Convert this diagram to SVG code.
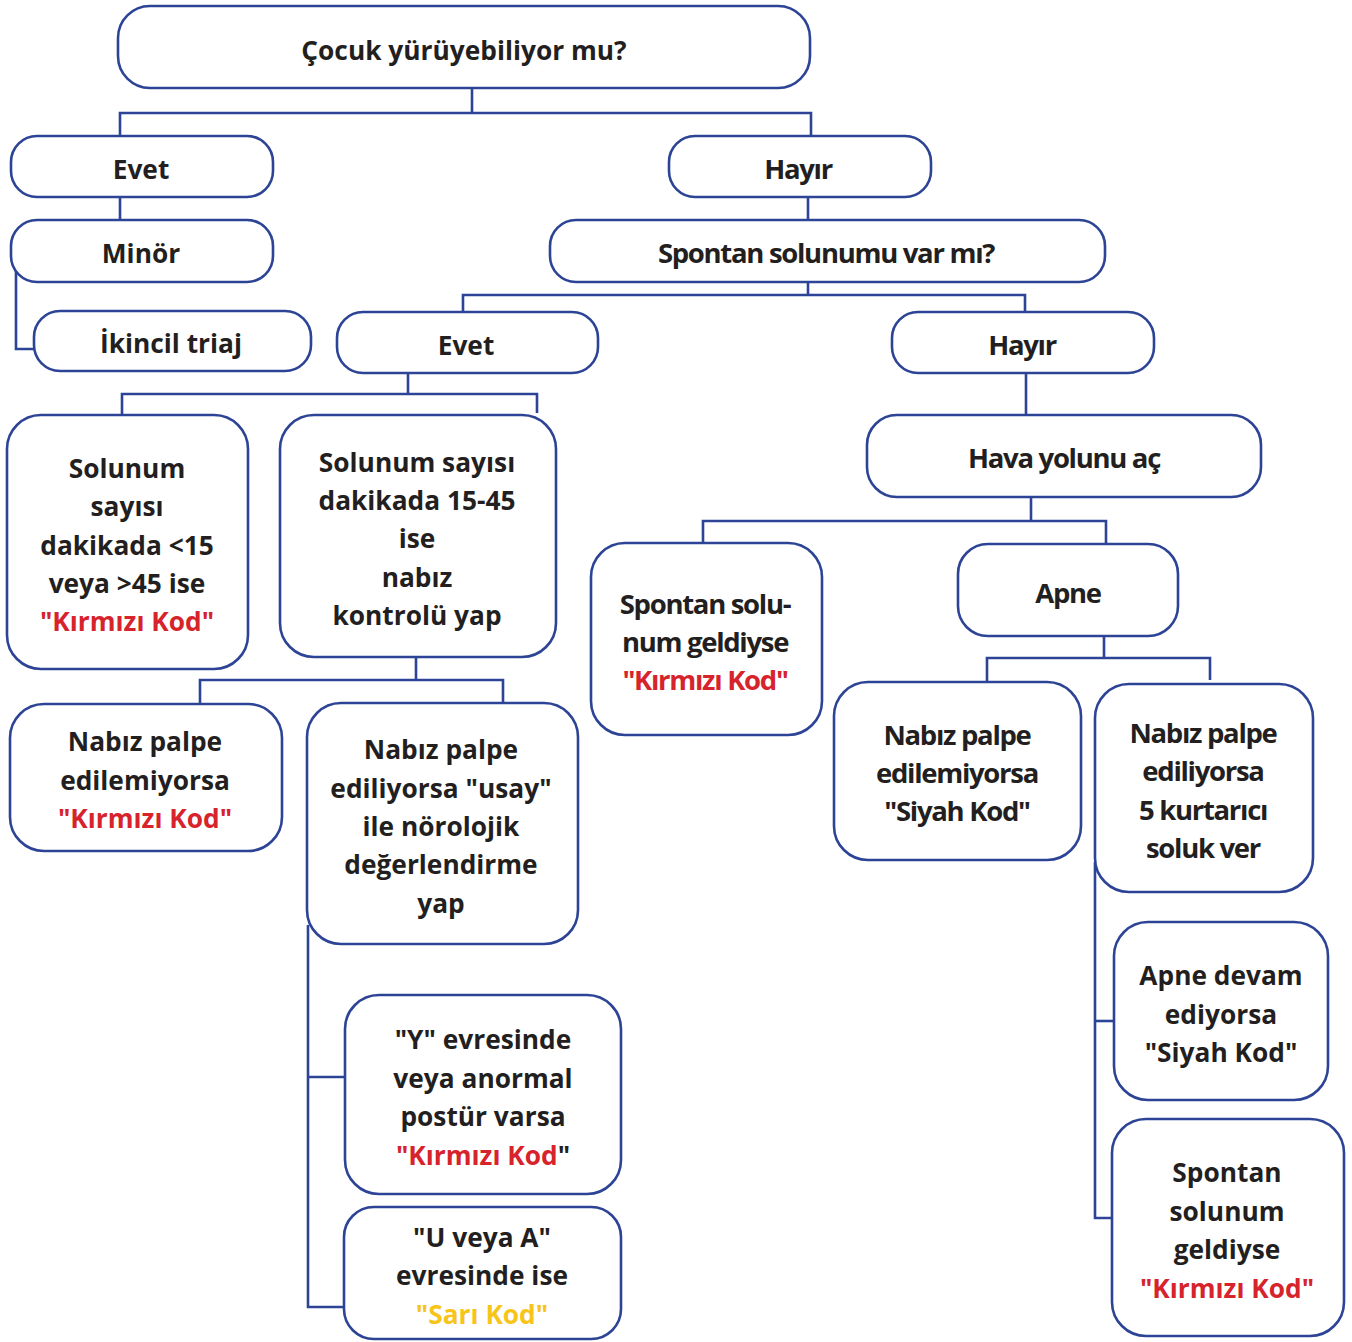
<svg xmlns="http://www.w3.org/2000/svg" width="1352" height="1342" viewBox="0 0 1352 1342">
<style>
.b{fill:#fff;stroke:#2d4496;stroke-width:2.6}
.c{fill:none;stroke:#2d4496;stroke-width:2.6}
text{font-family:"Open Sans","Noto Sans","Liberation Sans",sans-serif;font-weight:700;font-size:26.3px;fill:#231f20;text-anchor:middle}
.n{font-size:27.5px;letter-spacing:-1.3px}
.r{fill:#d6232c}
.y{fill:#f7c51a}
</style>
<rect width="1352" height="1342" fill="#fff"/>
<g id="connectors">
<polyline class="c" points="472,88 472,113"/>
<polyline class="c" points="120,136 120,113 811,113 811,136"/>
<polyline class="c" points="120,197 120,220"/>
<polyline class="c" points="16,268 16,349 34,349"/>
<polyline class="c" points="808,197 808,220"/>
<polyline class="c" points="808,282 808,295"/>
<polyline class="c" points="463,312 463,295 1025,295 1025,312"/>
<polyline class="c" points="1026,373 1026,415"/>
<polyline class="c" points="408,373 408,394"/>
<polyline class="c" points="122,415 122,394 537,394 537,413"/>
<polyline class="c" points="416,657 416,680"/>
<polyline class="c" points="200,704 200,680 503,680 503,703"/>
<polyline class="c" points="308,925 308,1307 344,1307"/>
<polyline class="c" points="308,1077 346,1077"/>
<polyline class="c" points="1031,497 1031,521"/>
<polyline class="c" points="703,543 703,521 1106,521 1106,543"/>
<polyline class="c" points="1104,636 1104,658"/>
<polyline class="c" points="987,682 987,658 1210,658 1210,680"/>
<polyline class="c" points="1095,862 1095,1218 1112,1218"/>
<polyline class="c" points="1095,1021 1114,1021"/>
</g>
<g id="n-top"><rect class="b" x="118" y="6" width="692" height="82" rx="32"/><text x="464" y="60">Çocuk yürüyebiliyor mu?</text></g>
<g id="n-evet1"><rect class="b" x="11" y="136" width="262" height="61" rx="26"/><text x="141" y="179">Evet</text></g>
<g id="n-minor"><rect class="b" x="11" y="220" width="262" height="62" rx="26"/><text x="141" y="263">Minör</text></g>
<g id="n-ikincil"><rect class="b" x="34" y="311" width="277" height="60" rx="26"/><text x="171" y="353">İkincil triaj</text></g>
<g id="n-hayir1"><rect class="b" x="669" y="136" width="262" height="61" rx="26"/><text class="n" x="798" y="179">Hayır</text></g>
<g id="n-spontan-q"><rect class="b" x="550" y="220" width="555" height="62" rx="26"/><text class="n" x="826" y="263">Spontan solunumu var mı?</text></g>
<g id="n-evet2"><rect class="b" x="337" y="312" width="261" height="61" rx="26"/><text x="466" y="355">Evet</text></g>
<g id="n-hayir2"><rect class="b" x="892" y="312" width="262" height="61" rx="26"/><text class="n" x="1022" y="355">Hayır</text></g>
<g id="n-hava"><rect class="b" x="867" y="415" width="394" height="82" rx="30"/><text class="n" x="1064" y="468">Hava yolunu aç</text></g>
<g id="n-sol15"><rect class="b" x="7" y="415" width="241" height="254" rx="34"/>
<text x="127" y="478">Solunum</text><text x="127" y="516">sayısı</text><text x="127" y="555">dakikada &lt;15</text><text x="127" y="593">veya &gt;45 ise</text><text class="r" x="127" y="631">"Kırmızı Kod"</text></g>
<g id="n-sol1545"><rect class="b" x="280" y="415" width="276" height="242" rx="34"/>
<text x="417" y="472">Solunum sayısı</text><text x="417" y="510">dakikada 15-45</text><text x="417" y="548">ise</text><text x="417" y="587">nabız</text><text x="417" y="625">kontrolü yap</text></g>
<g id="n-nabiz-k"><rect class="b" x="10" y="704" width="272" height="147" rx="34"/>
<text x="145" y="751">Nabız palpe</text><text x="145" y="790">edilemiyorsa</text><text class="r" x="145" y="828">"Kırmızı Kod"</text></g>
<g id="n-usay"><rect class="b" x="307" y="703" width="271" height="241" rx="34"/>
<text x="441" y="759">Nabız palpe</text><text x="441" y="798">ediliyorsa "usay"</text><text x="441" y="836">ile nörolojik</text><text x="441" y="874">değerlendirme</text><text x="441" y="913">yap</text></g>
<g id="n-y"><rect class="b" x="345" y="995" width="276" height="199" rx="34"/>
<text x="483" y="1049">"Y" evresinde</text><text x="483" y="1088">veya anormal</text><text x="483" y="1126">postür varsa</text><text x="483" y="1165"><tspan class="r">"Kırmızı Kod</tspan>"</text></g>
<g id="n-u"><rect class="b" x="344" y="1207" width="277" height="132" rx="30"/>
<text x="482" y="1247">"U veya A"</text><text x="482" y="1285">evresinde ise</text><text class="y" x="482" y="1324">"Sarı Kod"</text></g>
<g id="n-spontan-k"><rect class="b" x="591" y="543" width="231" height="192" rx="34"/>
<text class="n" x="705" y="614">Spontan solu-</text><text class="n" x="705" y="652">num geldiyse</text><text class="n r" x="705" y="690">"Kırmızı Kod"</text></g>
<g id="n-apne"><rect class="b" x="958" y="544" width="220" height="92" rx="30"/><text class="n" x="1068" y="603">Apne</text></g>
<g id="n-siyah"><rect class="b" x="834" y="682" width="247" height="178" rx="34"/>
<text class="n" x="957" y="745">Nabız palpe</text><text class="n" x="957" y="783">edilemiyorsa</text><text class="n" x="957" y="821">"Siyah Kod"</text></g>
<g id="n-kurtarici"><rect class="b" x="1095" y="684" width="218" height="208" rx="34"/>
<text class="n" x="1203" y="743">Nabız palpe</text><text class="n" x="1203" y="781">ediliyorsa</text><text class="n" x="1203" y="820">5 kurtarıcı</text><text class="n" x="1203" y="858">soluk ver</text></g>
<g id="n-apne-devam"><rect class="b" x="1114" y="922" width="214" height="178" rx="34"/>
<text x="1221" y="985">Apne devam</text><text x="1221" y="1024">ediyorsa</text><text x="1221" y="1062">"Siyah Kod"</text></g>
<g id="n-spontan-geldi"><rect class="b" x="1112" y="1119" width="232" height="217" rx="34"/>
<text x="1227" y="1182">Spontan</text><text x="1227" y="1221">solunum</text><text x="1227" y="1259">geldiyse</text><text class="r" x="1227" y="1298">"Kırmızı Kod"</text></g>
</svg>
